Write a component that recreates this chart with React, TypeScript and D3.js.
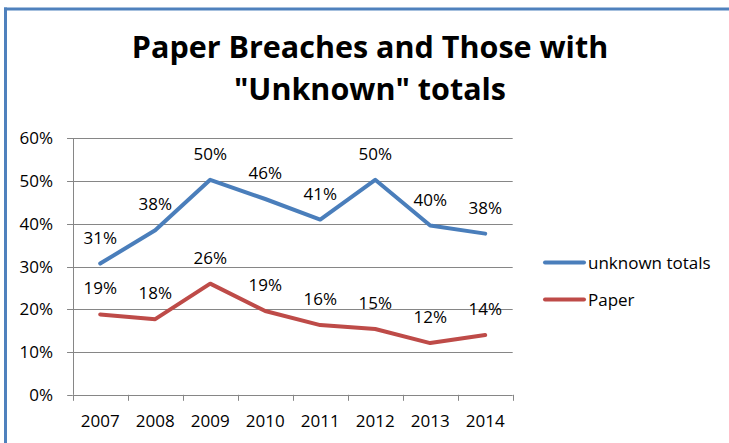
import React from "react";
import * as d3 from "d3";

const years = ["2007", "2008", "2009", "2010", "2011", "2012", "2013", "2014"];
const unknownTotals = [30.7, 38.5, 50.3, 45.8, 41.0, 50.3, 39.6, 37.7];
const unknownLabels = ["31%", "38%", "50%", "46%", "41%", "50%", "40%", "38%"];
const paper = [18.8, 17.7, 26.0, 19.6, 16.3, 15.4, 12.1, 14.0];
const paperLabels = ["19%", "18%", "26%", "19%", "16%", "15%", "12%", "14%"];
const yTicks = [0, 10, 20, 30, 40, 50, 60];
const titleLines = ["Paper Breaches and Those with", "\"Unknown\" totals"];
const seriesNames = ["unknown totals", "Paper"];
const seriesColors = ["#4A7EBB", "#BE4B48"];

const W = 729;
const H = 443;
const FONT = "'Open Sans', Lato, sans-serif";
const FS = 17;

export default function App() {
  const x = d3.scaleBand<string>().domain(years).range([72.7, 512.7]);
  const y = d3.scaleLinear().domain([0, 60]).range([394.8, 138.3]);
  const line = d3
    .line<number>()
    .x((_, i) => (x(years[i]) as number) + x.bandwidth() / 2)
    .y((d) => y(d));
  const series = [
    { vals: unknownTotals, labels: unknownLabels },
    { vals: paper, labels: paperLabels },
  ];
  const [x0, x1] = x.range();
  return (
    <svg
      width={W}
      height={H}
      style={{ position: "absolute", left: 0, top: 0, background: "#fff" }}
      fontFamily={FONT}
    >
      <rect x={0} y={0} width={W} height={H} fill="#fff" />
      <line x1={4} x2={W} y1={9} y2={9} stroke="#4F81BD" strokeWidth={3} />
      <line x1={5.5} x2={5.5} y1={7.5} y2={H} stroke="#4F81BD" strokeWidth={3} />
      {titleLines.map((t, i) => (
        <text
          key={t}
          x={370}
          y={58 + i * 41.5}
          textAnchor="middle"
          fontWeight="bold"
          fontSize={30.5}
          fill="#000"
        >
          {t}
        </text>
      ))}
      {yTicks.map((t) => (
        <g key={t}>
          <line
            x1={t === 0 ? x0 : x0 - 5.5}
            x2={x1}
            y1={Math.round(y(t)) + 0.5}
            y2={Math.round(y(t)) + 0.5}
            stroke="#868686"
            strokeWidth={1}
          />
          <line
            x1={x0 - 5.5}
            x2={x0}
            y1={Math.round(y(t)) + 0.5}
            y2={Math.round(y(t)) + 0.5}
            stroke="#868686"
          />
          <text x={53} y={y(t) + 6} textAnchor="end" fontSize={FS} fill="#000">
            {t}%
          </text>
        </g>
      ))}
      <line x1={Math.round(x0) + 0.5} x2={Math.round(x0) + 0.5} y1={y(60)} y2={y(0)} stroke="#868686" />
      {years.concat(["end"]).map((yr, i) => {
        const xp = Math.round(x0 + i * x.bandwidth()) + 0.5;
        return (
          <line key={yr} x1={xp} x2={xp} y1={y(0)} y2={y(0) + 6} stroke="#868686" />
        );
      })}
      {years.map((yr) => (
        <text
          key={yr}
          x={(x(yr) as number) + x.bandwidth() / 2}
          y={427}
          textAnchor="middle"
          fontSize={FS}
          fill="#000"
        >
          {yr}
        </text>
      ))}
      {series.map((s, si) => (
        <path
          key={si}
          d={line(s.vals) || ""}
          fill="none"
          stroke={seriesColors[si]}
          strokeWidth={4}
          strokeLinejoin="round"
          strokeLinecap="round"
        />
      ))}
      {series.map((s, si) =>
        s.vals.map((v, i) => (
          <text
            key={si + "-" + i}
            x={(x(years[i]) as number) + x.bandwidth() / 2}
            y={y(v) - 20}
            textAnchor="middle"
            fontSize={FS}
            fill="#000"
          >
            {s.labels[i]}
          </text>
        ))
      )}
      {seriesNames.map((n, i) => (
        <g key={n}>
          <line
            x1={545}
            x2={584}
            y1={262.5 + i * 37}
            y2={262.5 + i * 37}
            stroke={seriesColors[i]}
            strokeWidth={4}
            strokeLinecap="round"
          />
          <text x={588} y={268.5 + i * 37} fontSize={FS} fill="#000">
            {n}
          </text>
        </g>
      ))}
    </svg>
  );
}
